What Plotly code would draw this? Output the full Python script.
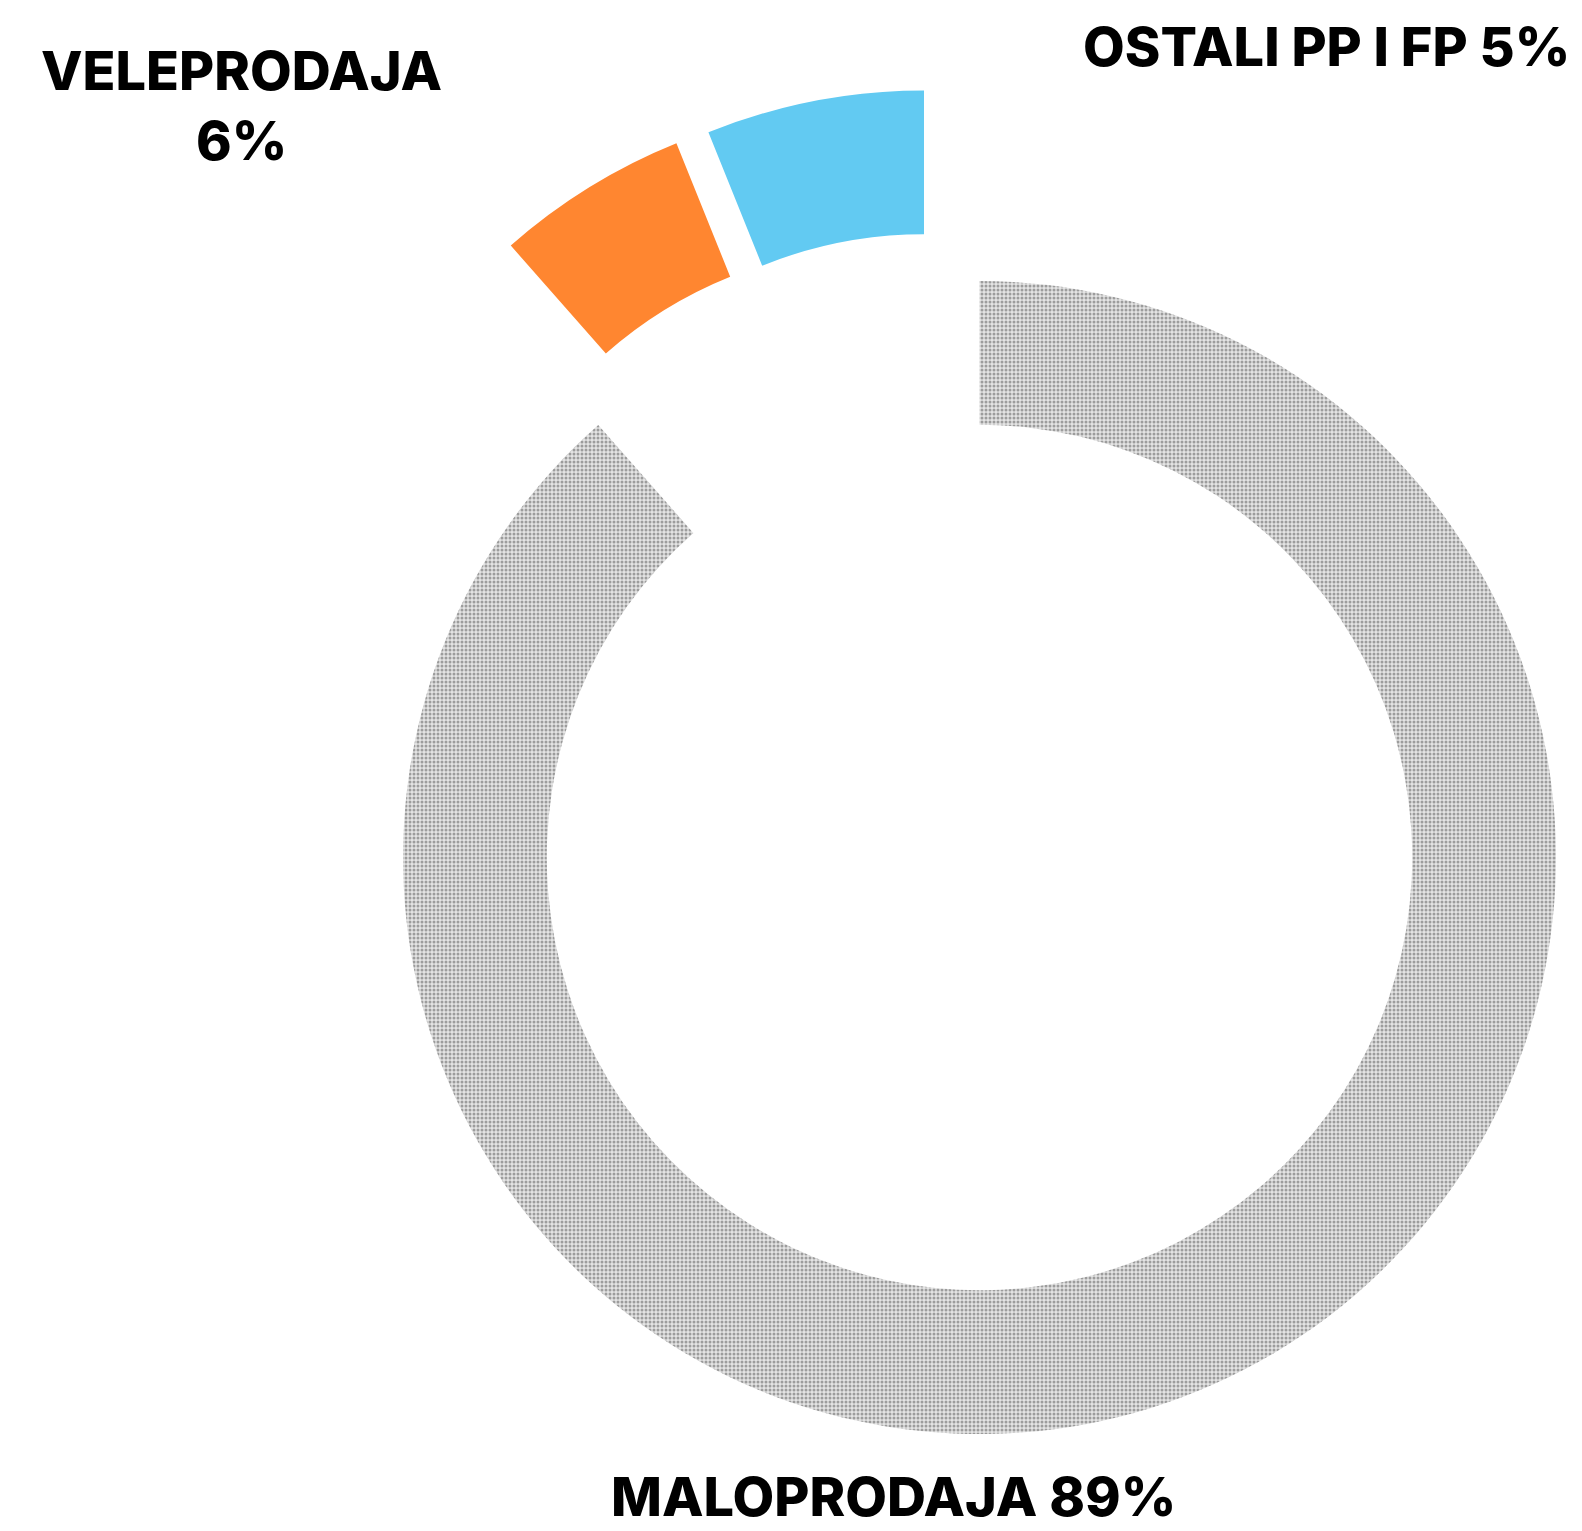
import plotly.graph_objects as go

# ---------------- data ----------------
categories = ["MALOPRODAJA", "OSTALI PP I FP", "VELEPRODAJA"]
values = [88.5, 5.4, 6.1]          # slice shares as drawn (labels show rounded %)
label_texts = ["MALOPRODAJA 89%", "OSTALI PP I FP 5%", "VELEPRODAJA<br>6%"]

# ---------------- styling / layout ----------------
W, H = 1582, 1531
PAGE_OFFSET = 8                    # default body margin of the html page
GRAY_FG, GRAY_BG = "#9c9c9c", "#e4e4e4"
ORANGE, BLUE = "#FF8630", "#62CAF2"
CLEAR = "rgba(0,0,0,0)"

RING_CX, RING_CY = 979.5 - PAGE_OFFSET, 857.5 - PAGE_OFFSET   # centre of main ring (px)
RING_R = 576.5                     # outer radius (px)
HOLE = 0.7506
# exploded (pulled-out) offsets, pixels, for each slice
PULL_OFFSETS = [(0, 0), (-87.5, -179.5), (-55.5, -190.5)]

FONT = dict(family="Inter, Open Sans, sans-serif", color="#000000", size=54, weight=800)


def domain_for(dx, dy):
    cx, cy = RING_CX + dx, RING_CY + dy
    return dict(
        x=[(cx - RING_R) / W, (cx + RING_R) / W],
        y=[1 - (cy + RING_R) / H, 1 - (cy - RING_R) / H],
    )


fig = go.Figure()
slice_colors = [GRAY_BG, ORANGE, BLUE]
for i, cat in enumerate(categories):
    colors = [CLEAR] * len(categories)
    colors[i] = slice_colors[i]
    marker = dict(colors=colors, line=dict(width=0))
    if i == 0:
        marker["pattern"] = dict(shape=[".", "", ""], fgcolor=GRAY_FG, bgcolor=GRAY_BG,
                                 size=4, solidity=0.45)
    fig.add_trace(go.Pie(
        labels=categories,
        values=values,
        sort=False,
        direction="clockwise",
        rotation=0,
        hole=HOLE,
        marker=marker,
        textinfo="none",
        hoverinfo="label+percent",
        showlegend=False,
        domain=domain_for(*PULL_OFFSETS[i]),
    ))

# category labels (pixel positions in the page)
label_pos = [
    (893, 1496, "center"),   # MALOPRODAJA
    (1572, 46.5, "right"),   # OSTALI
    (241, 105.5, "center"),  # VELEPRODAJA
]
for txt, (px, py, anchor) in zip(label_texts, label_pos):
    fig.add_annotation(
        text=txt,
        x=(px - PAGE_OFFSET) / W, y=1 - (py - PAGE_OFFSET) / H,
        xref="paper", yref="paper",
        xanchor=anchor, yanchor="middle", align="center",
        showarrow=False, font=FONT,
    )

fig.update_layout(
    width=W, height=H,
    margin=dict(l=0, r=0, t=0, b=0),
    paper_bgcolor="white", plot_bgcolor="white",
)

fig.write_html("out.html")
